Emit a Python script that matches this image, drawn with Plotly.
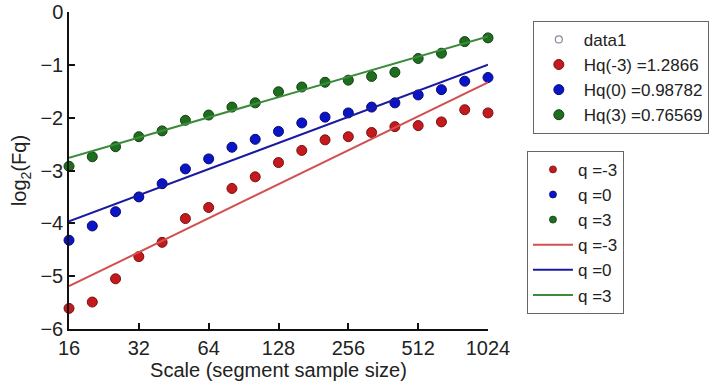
import numpy as np
import plotly.graph_objects as go

# Segment sizes: 16 .. 1024 in steps of one third of an octave
scales = [16, 20.16, 25.40, 32, 40.32, 50.80, 64, 80.63, 101.59, 128,
          161.27, 203.19, 256, 322.54, 406.37, 512, 645.08, 812.75, 1024]

# log2 fluctuation function per q
fq_neg3 = [-5.61, -5.49, -5.05, -4.63, -4.36, -3.91, -3.70, -3.34, -3.12, -2.85,
           -2.62, -2.42, -2.36, -2.28, -2.17, -2.15, -2.08, -1.85, -1.91]
fq_0 = [-4.32, -4.05, -3.78, -3.50, -3.25, -2.97, -2.78, -2.56, -2.41, -2.26,
        -2.10, -1.99, -1.91, -1.80, -1.72, -1.57, -1.47, -1.31, -1.24]
fq_3 = [-2.92, -2.74, -2.55, -2.36, -2.25, -2.05, -1.95, -1.80, -1.72, -1.51,
        -1.42, -1.33, -1.29, -1.22, -1.14, -0.88, -0.78, -0.56, -0.49]

# Generalised Hurst exponents and fit intercepts (at scale 16)
q_values = [-3, 0, 3]
hq = [1.2866, 0.98782, 0.76569]
fit_start = [-5.19, -3.96, -2.76]

x_ticks = [16, 32, 64, 128, 256, 512, 1024]

dot_colors = ["#c41a1e", "#0a14c8", "#1f6e1f"]
dot_edges = ["#7a1010", "#0a0a70", "#124012"]
line_colors = ["#d2504f", "#1a1aa0", "#3a8c3a"]

FONT = "Liberation Sans, Arial, sans-serif"
FS = 20
LEG_FS = 17

fig = go.Figure()

# Entries of the first legend box
fig.add_trace(go.Scatter(
    x=[None], y=[None], mode="markers", name="data1", legend="legend",
    marker=dict(symbol="circle-open", size=7, color="#8a8a9a", line=dict(width=1.2)),
))
for q, h, c, e in zip(q_values, hq, dot_colors, dot_edges):
    fig.add_trace(go.Scatter(
        x=[None], y=[None], mode="markers", name=f"Hq({q}) ={h:g}", legend="legend",
        marker=dict(size=10, color=c, line=dict(color=e, width=1)),
    ))

# Data points (plot only; smaller dots stand for them in the second legend)
for q, ys, c, e in zip(q_values, [fq_neg3, fq_0, fq_3], dot_colors, dot_edges):
    fig.add_trace(go.Scatter(
        x=scales, y=ys, mode="markers", name=f"q ={q}", showlegend=False,
        legendgroup=f"pts{q}",
        marker=dict(size=10, color=c, line=dict(color=e, width=1)),
        cliponaxis=False,
    ))
    fig.add_trace(go.Scatter(
        x=[None], y=[None], mode="markers", name=f"q ={q}", legend="legend2",
        legendgroup=f"pts{q}",
        marker=dict(size=7, color=c, line=dict(color=e, width=0.8)),
    ))

# Fitted lines
log_s = np.log2(scales)
for q, h, y0, c in zip(q_values, hq, fit_start, line_colors):
    yfit = y0 + 0.5 * h * (log_s - log_s[0])
    fig.add_trace(go.Scatter(
        x=scales, y=yfit, mode="lines", name=f"q ={q}", legend="legend2",
        line=dict(color=c, width=2),
    ))

fig.update_layout(
    width=720, height=383,
    margin=dict(l=69, r=232, t=12, b=54, autoexpand=False),
    paper_bgcolor="white", plot_bgcolor="white",
    font=dict(family=FONT, size=FS, color="#222222"),
    xaxis=dict(
        type="log", range=[np.log10(15.999), np.log10(1024.01)],
        tickvals=x_ticks, ticktext=[str(t) for t in x_ticks],
        showgrid=False, zeroline=False,
        showline=True, linecolor="#111111", linewidth=1.5,
        ticks="inside", ticklen=6, tickcolor="#111111", tickwidth=1.5,
        tickfont=dict(size=FS),
        title=dict(text="Scale (segment sample size)", standoff=0,
                   font=dict(size=FS)),
    ),
    yaxis=dict(
        range=[-6, 0], tickvals=[-6, -5, -4, -3, -2, -1, 0],
        showgrid=False, zeroline=False,
        showline=True, linecolor="#111111", linewidth=1.5,
        ticks="inside", ticklen=6, tickcolor="#111111", tickwidth=1.5,
        tickfont=dict(size=FS),
        title=dict(text="log<sub>2</sub>(Fq)", standoff=8, font=dict(size=FS)),
    ),
    legend=dict(
        x=1.107, y=0.972, xanchor="left", yanchor="top",
        bgcolor="white", bordercolor="#666666", borderwidth=1,
        font=dict(size=LEG_FS), tracegroupgap=0, itemwidth=40,
    ),
    legend2=dict(
        x=1.093, y=0.562, xanchor="left", yanchor="top",
        bgcolor="white", bordercolor="#666666", borderwidth=1,
        font=dict(size=LEG_FS), tracegroupgap=0, itemwidth=40,
    ),
    showlegend=True,
)

fig.write_html("out.html")
